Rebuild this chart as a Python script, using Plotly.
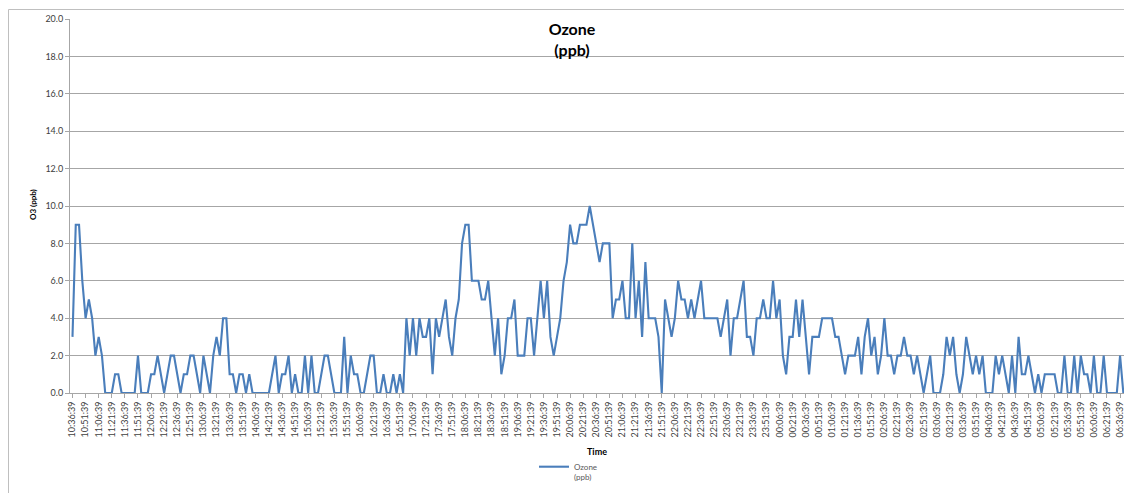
import plotly.graph_objects as go

# Ozone readings (ppb), one every 3 min 45 s starting 10:36:39
ozone = [
    3, 9, 9, 6, 4, 5, 4, 2, 3, 2, 0, 0, 0, 1, 1, 0, 0, 0, 0, 0,
    2, 0, 0, 0, 1, 1, 2, 1, 0, 1, 2, 2, 1, 0, 1, 1, 2, 2, 1, 0,
    2, 1, 0, 2, 3, 2, 4, 4, 1, 1, 0, 1, 1, 0, 1, 0, 0, 0, 0, 0,
    0, 1, 2, 0, 1, 1, 2, 0, 1, 0, 0, 2, 0, 2, 0, 0, 1, 2, 2, 1,
    0, 0, 0, 3, 0, 2, 1, 1, 0, 0, 1, 2, 2, 0, 0, 1, 0, 0, 1, 0,
    1, 0, 4, 2, 4, 2, 4, 3, 3, 4, 1, 4, 3, 4, 5, 3, 2, 4, 5, 8,
    9, 9, 6, 6, 6, 5, 5, 6, 4, 2, 4, 1, 2, 4, 4, 5, 2, 2, 2, 4,
    4, 2, 4, 6, 4, 6, 3, 2, 3, 4, 6, 7, 9, 8, 8, 9, 9, 9, 10, 9,
    8, 7, 8, 8, 8, 4, 5, 5, 6, 4, 4, 8, 4, 6, 3, 7, 4, 4, 4, 3,
    0, 5, 4, 3, 4, 6, 5, 5, 4, 5, 4, 5, 6, 4, 4, 4, 4, 4, 3, 4,
    5, 2, 4, 4, 5, 6, 3, 3, 2, 4, 4, 5, 4, 4, 6, 4, 5, 2, 1, 3,
    3, 5, 3, 5, 3, 1, 3, 3, 3, 4, 4, 4, 4, 3, 3, 2, 1, 2, 2, 2,
    3, 1, 3, 4, 2, 3, 1, 2, 4, 2, 2, 1, 2, 2, 3, 2, 2, 1, 2, 1,
    0, 1, 2, 0, 0, 0, 1, 3, 2, 3, 1, 0, 1, 3, 2, 1, 2, 1, 2, 0,
    0, 0, 2, 1, 2, 1, 0, 2, 0, 3, 1, 1, 2, 1, 0, 1, 0, 1, 1, 1,
    1, 0, 0, 2, 0, 0, 2, 0, 2, 1, 1, 0, 2, 0, 0, 2, 0, 0, 0, 0,
    2, 0,
]

# category axis labels (every 4th reading)
tick_labels = [
    "10:36:39", "10:51:39", "11:06:39", "11:21:39", "11:36:39", "11:51:39",
    "12:06:39", "12:21:39", "12:36:39", "12:51:39", "13:06:39", "13:21:39",
    "13:36:39", "13:51:39", "14:06:39", "14:21:39", "14:36:39", "14:51:39",
    "15:06:39", "15:21:39", "15:36:39", "15:51:39", "16:06:39", "16:21:39",
    "16:36:39", "16:51:39", "17:06:39", "17:21:39", "17:36:39", "17:51:39",
    "18:06:39", "18:21:39", "18:36:39", "18:51:39", "19:06:39", "19:21:39",
    "19:36:39", "19:51:39", "20:06:39", "20:21:39", "20:36:39", "20:51:39",
    "21:06:39", "21:21:39", "21:36:39", "21:51:39", "22:06:39", "22:21:39",
    "22:36:39", "22:51:39", "23:06:39", "23:21:39", "23:36:39", "23:51:39",
    "00:06:39", "00:21:39", "00:36:39", "00:51:39", "01:06:39", "01:21:39",
    "01:36:39", "01:51:39", "02:06:39", "02:21:39", "02:36:39", "02:51:39",
    "03:06:39", "03:21:39", "03:36:39", "03:51:39", "04:06:39", "04:21:39",
    "04:36:39", "04:51:39", "05:06:39", "05:21:39", "05:36:39", "05:51:39",
    "06:06:39", "06:21:39", "06:36:39",
]
tick_step = 4
y_ticks = [0, 2, 4, 6, 8, 10, 12, 14, 16, 18, 20]

x_idx = list(range(len(ozone)))
tick_pos = [k * tick_step for k in range(len(tick_labels))]

FONT = "Lato, 'Open Sans', sans-serif"
GRID = "#a6a6a6"
TXT = "#404040"

W, H = 1124, 493
L, T, B = 70, 19, 393
PW, PH = W - L, B - T


def px(x):  # page pixel x -> paper
    return (x - L) / PW


def py(y):  # page pixel y -> paper
    return (B - y) / PH


fig = go.Figure()
fig.add_trace(go.Scatter(
    x=x_idx, y=ozone, mode="lines", name="Ozone<br>(ppb)",
    line=dict(color="#4a7ebb", width=2.1),
))

fig.update_layout(
    width=W, height=H,
    margin=dict(l=L, r=0, t=T, b=H - B, autoexpand=False),
    paper_bgcolor="white", plot_bgcolor="white",
    font=dict(family=FONT, color=TXT, size=9),
    title=dict(text="<b>Ozone<br>(ppb)</b>", x=572 / W, xanchor="center",
               y=1 - 35 / H, yanchor="top", yref="container",
               font=dict(family=FONT, size=16, color="black")),
    showlegend=True,
    legend=dict(x=px(534), y=py(455), xanchor="left", yanchor="top", valign="top",
                font=dict(family=FONT, size=8, color="#595959"),
                bgcolor="rgba(0,0,0,0)"),
    xaxis=dict(
        range=[-0.76, 321.2], tickmode="array", tickvals=tick_pos, ticktext=tick_labels,
        tickangle=-90, tickfont=dict(family=FONT, size=9, color=TXT),
        ticklabeloverflow="allow",
        showgrid=False, zeroline=False, showline=True, linecolor=GRID, linewidth=1,
        ticks="outside", ticklen=4, tickcolor=GRID, automargin=False,
    ),
    yaxis=dict(
        range=[0, 20], tickmode="array", tickvals=y_ticks,
        ticktext=[f"{v:.1f}" for v in y_ticks],
        tickfont=dict(family=FONT, size=9, color=TXT),
        showgrid=True, gridcolor=GRID, gridwidth=1, zeroline=False,
        showline=True, linecolor=GRID, linewidth=1,
        ticks="outside", ticklen=4, tickcolor=GRID, automargin=False,
    ),
    annotations=[
        dict(text="<b>O3 (ppb)</b>", textangle=-90, xref="paper", yref="paper",
             x=px(33), y=py(205), xanchor="center", yanchor="middle",
             showarrow=False, font=dict(family=FONT, size=8, color="black")),
        dict(text="<b>Time</b>", xref="paper", yref="paper",
             x=px(597), y=py(451), xanchor="center", yanchor="middle",
             showarrow=False, font=dict(family=FONT, size=9, color="black")),
    ],
    shapes=[
        dict(type="rect", xref="paper", yref="paper",
             x0=px(8.5), x1=1.02, y0=-0.3, y1=py(9.5),
             line=dict(color="#bfbfbf", width=1), fillcolor="rgba(0,0,0,0)", layer="below"),
    ],
)

fig.write_html(
    "out.html",
    config={"displayModeBar": False},
    post_script="document.body.style.margin='0';document.body.style.overflow='hidden';",
)
